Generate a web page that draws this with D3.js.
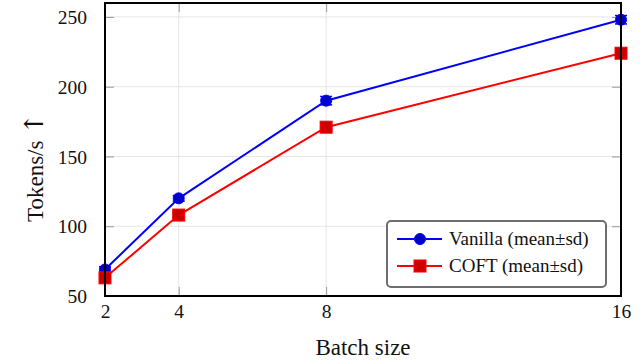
<!DOCTYPE html>
<html>
<head>
<meta charset="utf-8">
<script src="https://cdn.jsdelivr.net/npm/d3@7"></script>
<style>
  body { margin: 0; background: #fff; }
</style>
</head>
<body>
<script>
// data
const batchSizes = [2, 4, 8, 16];
const vanillaMean = [69, 120, 190, 248];
const vanillaSd = [2, 2, 3, 3];
const coftMean = [63, 108, 171, 224];
const coftSd = [1.5, 1.5, 2, 2];
const yTicks = [50, 100, 150, 200, 250];

const FONT = 'Liberation Serif';
const W = 643, H = 364;
const m = {left: 105, right: 22, top: 3, bottom: 68};

const svg = d3.select('body').append('svg')
  .attr('width', W).attr('height', H);

const x = d3.scaleLinear().domain([2, 16]).range([m.left, W - m.right]);
const y = d3.scaleLinear().domain([50, 260]).range([H - m.bottom, m.top]);

// grid
const g = svg.append('g');
g.selectAll('.vg').data(batchSizes).enter().append('line')
  .attr('x1', d => x(d)).attr('x2', d => x(d))
  .attr('y1', y(260)).attr('y2', y(50))
  .attr('stroke', '#e6e6e6').attr('stroke-width', 1);
g.selectAll('.hg').data(yTicks).enter().append('line')
  .attr('x1', x(2)).attr('x2', x(16))
  .attr('y1', d => y(d)).attr('y2', d => y(d))
  .attr('stroke', '#e6e6e6').attr('stroke-width', 1);

// inward ticks on all sides
const tl = 9;
const axB = svg.append('g').attr('transform', `translate(0,${y(50)})`)
  .call(d3.axisBottom(x).tickValues(batchSizes).tickFormat(d3.format('d')).tickSizeInner(-tl).tickSizeOuter(0).tickPadding(13));
const axT = svg.append('g').attr('transform', `translate(0,${y(260)})`)
  .call(d3.axisTop(x).tickValues(batchSizes).tickFormat('').tickSizeInner(-tl).tickSizeOuter(0));
const axL = svg.append('g').attr('transform', `translate(${x(2)},0)`)
  .call(d3.axisLeft(y).tickValues(yTicks).tickSizeInner(-tl).tickSizeOuter(0).tickPadding(18));
const axR = svg.append('g').attr('transform', `translate(${x(16)},0)`)
  .call(d3.axisRight(y).tickValues(yTicks).tickFormat('').tickSizeInner(-tl).tickSizeOuter(0));
[axB, axT, axL, axR].forEach(a => {
  a.select('.domain').remove();
  a.selectAll('.tick line').attr('stroke', '#9a9a9a').attr('stroke-width', 1);
  a.selectAll('.tick text').attr('font-size', 19.5).attr('fill', '#111')
    .attr('font-family', FONT);
});
axL.selectAll('.tick text').attr('dy', '0.34em');
axB.selectAll('.tick text').attr('dy', '0.45em');

// series
const series = [
  {name: 'Vanilla (mean\u00b1sd)', mean: vanillaMean, sd: vanillaSd, line: '#0000ff', fill: '#0000cc', shape: 'circle'},
  {name: 'COFT (mean\u00b1sd)', mean: coftMean, sd: coftSd, line: '#ff0000', fill: '#cc0000', shape: 'square'}
];

function marker(sel, s, cx, cy) {
  if (s.shape === 'circle') {
    sel.append('circle').attr('cx', cx).attr('cy', cy).attr('r', 5.5)
      .attr('fill', s.fill).attr('stroke', s.line).attr('stroke-width', 1);
  } else {
    sel.append('rect').attr('x', cx - 6).attr('y', cy - 6).attr('width', 12).attr('height', 12)
      .attr('fill', s.fill).attr('stroke', s.line).attr('stroke-width', 1);
  }
}

const line = d3.line().x(d => x(d[0])).y(d => y(d[1]));
series.forEach(s => {
  const pts = batchSizes.map((b, i) => [b, s.mean[i]]);
  const sg = svg.append('g');
  sg.append('path').datum(pts).attr('d', line)
    .attr('fill', 'none').attr('stroke', s.line).attr('stroke-width', 2);
  batchSizes.forEach((b, i) => {
    const lo = y(s.mean[i] - s.sd[i]), hi = y(s.mean[i] + s.sd[i]);
    sg.append('line').attr('x1', x(b)).attr('x2', x(b)).attr('y1', lo).attr('y2', hi)
      .attr('stroke', s.line).attr('stroke-width', 1.5);
    [lo, hi].forEach(v => sg.append('line').attr('x1', x(b) - 6).attr('x2', x(b) + 6)
      .attr('y1', v).attr('y2', v).attr('stroke', s.line).attr('stroke-width', 1.5));
    marker(sg, s, x(b), y(s.mean[i]));
  });
});

// frame
svg.append('rect').attr('x', x(2)).attr('y', y(260))
  .attr('width', x(16) - x(2)).attr('height', y(50) - y(260))
  .attr('fill', 'none').attr('stroke', '#000').attr('stroke-width', 2);

// legend
const lg = svg.append('g').attr('transform', 'translate(387,221)');
lg.append('rect').attr('width', 219).attr('height', 66).attr('rx', 4)
  .attr('fill', '#fff').attr('stroke', '#6e6e6e').attr('stroke-width', 2);
series.forEach((s, i) => {
  const ly = 18 + i * 27;
  lg.append('line').attr('x1', 10).attr('x2', 55).attr('y1', ly).attr('y2', ly)
    .attr('stroke', s.line).attr('stroke-width', 2);
  marker(lg, s, 33, ly);
  lg.append('text').attr('x', 62).attr('y', ly).attr('dy', '0.33em')
    .attr('font-family', FONT).attr('font-size', 19).attr('fill', '#111').text(s.name);
});

// axis labels
svg.append('text').attr('x', (x(2) + x(16)) / 2).attr('y', 355)
  .attr('text-anchor', 'middle').attr('font-family', FONT)
  .attr('font-size', 23).attr('fill', '#111').text('Batch size');
const yl = svg.append('text').attr('transform', 'translate(43,222) rotate(-90)')
  .attr('text-anchor', 'start').attr('font-family', FONT)
  .attr('font-size', 23).attr('fill', '#111');
yl.append('tspan').text('Tokens/s ');
yl.append('tspan').attr('font-size', 26).attr('font-family', 'DejaVu Serif').text('\u2191');
</script>
</body>
</html>
